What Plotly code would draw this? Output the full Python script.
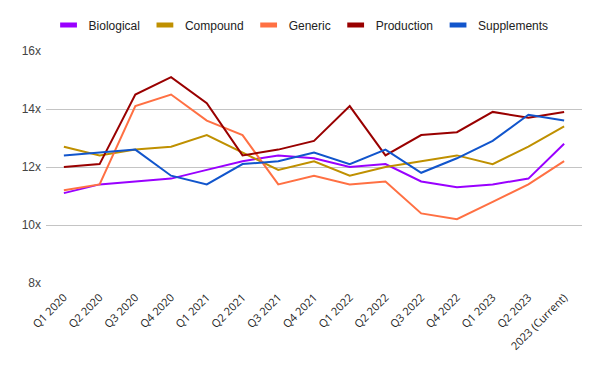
import plotly.graph_objects as go

categories = ["Q1 2020", "Q2 2020", "Q3 2020", "Q4 2020", "Q1 2021", "Q2 2021", "Q3 2021",
              "Q4 2021", "Q1 2022", "Q2 2022", "Q3 2022", "Q4 2022", "Q1 2023", "Q2 2023",
              "2023 (Current)"]

biological = [11.1, 11.4, 11.5, 11.6, 11.9, 12.2, 12.4, 12.3, 12.0, 12.1, 11.5, 11.3, 11.4, 11.6, 12.8]
compound = [12.7, 12.4, 12.6, 12.7, 13.1, 12.5, 11.9, 12.2, 11.7, 12.0, 12.2, 12.4, 12.1, 12.7, 13.4]
generic = [11.2, 11.4, 14.1, 14.5, 13.6, 13.1, 11.4, 11.7, 11.4, 11.5, 10.4, 10.2, 10.8, 11.4, 12.2]
production = [12.0, 12.1, 14.5, 15.1, 14.2, 12.4, 12.6, 12.9, 14.1, 12.4, 13.1, 13.2, 13.9, 13.7, 13.9]
supplements = [12.4, 12.5, 12.6, 11.7, 11.4, 12.1, 12.2, 12.5, 12.1, 12.6, 11.8, 12.3, 12.9, 13.8, 13.6]

y_ticks = [8, 10, 12, 14, 16]

series = [
    ("Biological", biological, "#9900ff"),
    ("Compound", compound, "#bf9000"),
    ("Generic", generic, "#ff7043"),
    ("Production", production, "#990000"),
    ("Supplements", supplements, "#1155cc"),
]

fig = go.Figure()
for name, vals, color in series:
    fig.add_trace(go.Scatter(x=categories, y=vals, name=name, mode="lines",
                             line=dict(color=color, width=2), showlegend=False))
# legend swatches (short thick bars like the original)
for name, vals, color in series:
    fig.add_trace(go.Scatter(x=[None], y=[None], name=name, mode="markers",
                             marker=dict(symbol="line-ew", size=12, color=color,
                                         line=dict(width=5, color=color)),
                             showlegend=True))

# the page body has an 8px margin, so the figure is sized to fit the window
fig.update_layout(
    width=592, height=363, autosize=False,
    margin=dict(l=38, r=18, t=43, b=88, autoexpand=False),
    paper_bgcolor="white", plot_bgcolor="white",
    font=dict(family="Liberation Sans, Arial, sans-serif", size=12, color="#222222"),
    showlegend=True,
    legend=dict(orientation="h", x=0.495, xanchor="center", xref="container",
                y=1 - 17 / 363, yanchor="middle", yref="container",
                font=dict(size=12, color="#222222"), itemwidth=30, traceorder="normal"),
    xaxis=dict(type="category", range=[-0.5, 14.5], showgrid=False, tickangle=-45,
               tickfont=dict(family="Open Sans, sans-serif", size=11, color="#222222"),
               showline=False, ticks="", automargin=False, ticklabelstandoff=5),
    yaxis=dict(range=[8, 16], tickvals=y_ticks, ticktext=[f"{v}x" for v in y_ticks],
               showgrid=True, gridcolor="#c4c4c4", gridwidth=1, zeroline=False,
               tickfont=dict(size=12, color="#444444"), ticklabelstandoff=4,
               automargin=False),
)

fig.write_html("out.html")
